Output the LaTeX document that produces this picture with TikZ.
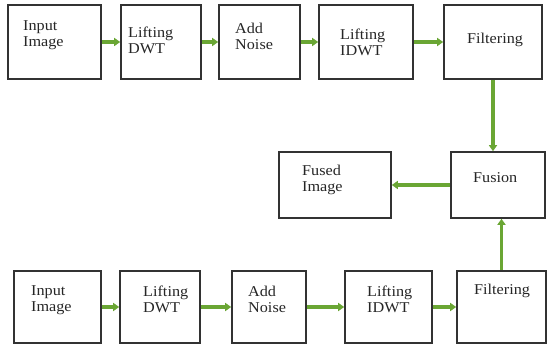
\documentclass[tikz,border=0pt]{standalone}
\usepackage{fontspec}
\setmainfont{Liberation Serif}[FakeStretch=1.08]
\usetikzlibrary{arrows.meta}
\definecolor{arrowgreen}{RGB}{106,166,52}
\definecolor{boxline}{RGB}{50,50,50}
\tikzset{
  box/.style={draw=boxline, line width=1.6pt, fill=white, inner sep=0pt},
  lbl/.style={anchor=west, align=left, inner sep=0pt, font=\fontsize{15}{16}\selectfont, text=black!85},
  flow/.style={draw=arrowgreen, line width=3.6pt, -{Triangle[width=8pt,length=6pt]}}
}
\begin{document}
\begin{tikzpicture}[x=1pt,y=-1pt]
\useasboundingbox (0,0) rectangle (547,347);
% top row
\node[box, minimum width=93pt, minimum height=74pt] (A1) at (54.5,42) {};
\node[box, minimum width=80pt, minimum height=74pt] (A2) at (161,42) {};
\node[box, minimum width=81pt, minimum height=74pt] (A3) at (259.5,42) {};
\node[box, minimum width=94pt, minimum height=74pt] (A4) at (366,42) {};
\node[box, minimum width=98pt, minimum height=74pt] (A5) at (493,42) {};
% middle row
\node[box, minimum width=112pt, minimum height=66pt] (FI) at (335,185) {};
\node[box, minimum width=94pt, minimum height=66pt] (F) at (498,185) {};
% bottom row
\node[box, minimum width=87pt, minimum height=72pt] (B1) at (57.5,307) {};
\node[box, minimum width=80pt, minimum height=72pt] (B2) at (160,307) {};
\node[box, minimum width=74pt, minimum height=72pt] (B3) at (269,307) {};
\node[box, minimum width=87pt, minimum height=72pt] (B4) at (388.5,307) {};
\node[box, minimum width=89pt, minimum height=72pt] (B5) at (501.5,307) {};
% labels
\node[lbl] (tA1) at (23,35) {Input\\Image};
\node[lbl] (tA2) at (128,40) {Lifting\\DWT};
\node[lbl] (tA3) at (235,36) {Add\\Noise};
\node[lbl] (tA4) at (340,42) {Lifting\\IDWT};
\node[lbl] (tA5) at (467,40) {Filtering};
\node[lbl] (tFI) at (302,180) {Fused\\Image};
\node[lbl] (tF) at (473,178) {Fusion};
\node[lbl] (tB1) at (31,300) {Input\\Image};
\node[lbl] (tB2) at (143,299) {Lifting\\DWT};
\node[lbl] (tB3) at (248,299) {Add\\Noise};
\node[lbl] (tB4) at (367,299) {Lifting\\IDWT};
\node[lbl] (tB5) at (474,291) {Filtering};
% connectors
\draw[flow] (A1.east) -- (A2.west);
\draw[flow] (A2.east) -- (A3.west);
\draw[flow] (A3.east) -- (A4.west);
\draw[flow] (A4.east) -- (A5.west);
\draw[flow] (A5.south) -- (A5.south |- F.north);
\draw[flow] (B5.north) -- (B5.north |- F.south);
\draw[flow] (F.west) -- (FI.east);
\draw[flow] (B1.east) -- (B2.west);
\draw[flow] (B2.east) -- (B3.west);
\draw[flow] (B3.east) -- (B4.west);
\draw[flow] (B4.east) -- (B5.west);
\end{tikzpicture}
\end{document}
